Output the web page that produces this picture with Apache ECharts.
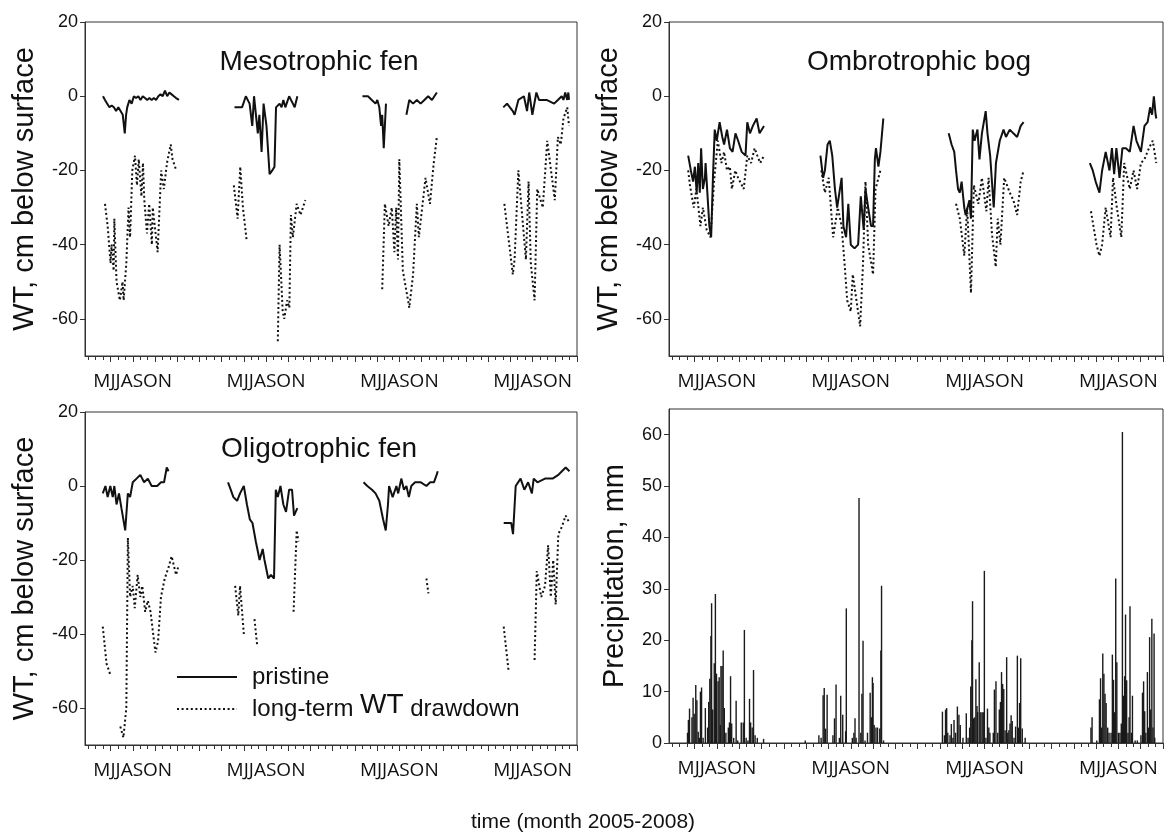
<!DOCTYPE html>
<html>
<head>
<meta charset="utf-8" />
<title>WT and precipitation 2005-2008</title>
<style>
  html, body { margin: 0; padding: 0; background: #fff; }
  #container { width: 1168px; height: 838px; }
</style>
</head>
<body>
<script src="https://cdn.jsdelivr.net/npm/echarts@6/dist/echarts.min.js"></script>
<div id="container"></div>
<script>
// x = months along the plotted growing seasons (4 seasons, 2005-2008)
var majorTicks = [1.15, 2.15, 3.15, 4.15, 5.15, 6.15, 7.15, 8.15, 9.15, 10.15, 11.15,
  12.15, 13.15, 14.15, 15.15, 16.15, 17.15, 18.15, 19.15, 20.15, 21.15, 22.15];
var seasonLabelPos = [2.15, 8.15, 14.15, 20.15];
var seasonLabel = 'MJJASON';
var wtTicks = [-60, -40, -20, 0, 20];
var precipTicks = [0, 10, 20, 30, 40, 50, 60];

// minor ticks: thirds between the major ticks
var minorTicks = [0.15, 0.48, 0.82];
majorTicks.forEach(function (m, i) {
  if (i < majorTicks.length - 1) { minorTicks.push(+(m + 1 / 3).toFixed(2), +(m + 2 / 3).toFixed(2)); }
});

// Mesotrophic fen
var mesoPristine = [
  [[0.81,0],[0.9,-1],[1.0,-2],[1.1,-3],[1.2,-2.5],[1.3,-3],[1.4,-4],[1.5,-3],[1.6,-4],[1.7,-5],[1.79,-10],[1.85,-5],[1.9,-3],[2.0,-1],[2.1,-2],[2.2,0],[2.3,-0.5],[2.4,0],[2.5,-1],[2.6,0],[2.7,-0.5],[2.8,-1],[2.9,-0.5],[3.0,-1],[3.1,-0.5],[3.2,-1],[3.3,0],[3.4,0.5],[3.5,0],[3.6,1.5],[3.7,0],[3.8,1],[3.9,0.5],[4.0,0],[4.1,-0.5],[4.23,-1]],
  [[6.73,-3],[7.07,-3],[7.24,0],[7.41,-2],[7.53,-8],[7.61,0],[7.78,-10],[7.85,-5],[7.95,-15],[8.04,-2],[8.17,-8],[8.31,-21],[8.43,-20],[8.53,-19],[8.6,-3],[8.76,-2],[8.85,-3],[8.93,-1],[9.02,-3],[9.19,0],[9.36,-2],[9.44,-3],[9.56,0]],
  [[12.49,0],[12.74,0],[12.91,-1],[13.08,-2],[13.16,-1],[13.25,-3],[13.33,-8],[13.38,-5],[13.45,-14],[13.55,-2]],
  [[14.47,-5],[14.6,-1],[14.77,-2],[14.94,-1],[15.11,-2],[15.28,-1],[15.45,0],[15.62,-1],[15.84,1]],
  [[18.83,-3],[19.0,-2],[19.26,-4],[19.34,-5],[19.51,-1],[19.76,0],[19.9,-4],[20.0,1],[20.14,-5],[20.32,1],[20.44,-1],[20.78,-1],[21.12,-2],[21.29,-1],[21.46,0],[21.54,-1],[21.62,1],[21.71,-1],[21.76,1],[21.79,-1]]
];
var mesoDrawdown = [
  [[0.9,-29],[1.02,-35],[1.15,-45],[1.2,-40],[1.29,-47],[1.32,-33],[1.42,-50],[1.57,-55],[1.69,-50],[1.74,-55],[1.86,-45],[1.96,-30],[2.03,-38],[2.13,-20],[2.25,-16],[2.34,-24],[2.42,-17],[2.54,-27],[2.61,-18],[2.67,-28],[2.79,-37],[2.89,-29],[3.01,-40],[3.05,-30],[3.27,-42],[3.43,-20],[3.55,-25],[3.69,-18],[3.86,-13],[3.94,-17],[4.11,-20]],
  [[6.7,-24],[6.87,-33],[6.99,-19],[7.11,-30],[7.28,-39]],
  [[8.68,-66],[8.76,-40],[8.9,-58],[8.97,-60],[9.1,-55],[9.2,-57],[9.27,-32],[9.36,-38],[9.53,-29],[9.7,-32],[9.92,-28]],
  [[13.38,-52],[13.5,-29],[13.67,-35],[13.81,-30],[13.93,-42],[14.01,-30],[14.09,-44],[14.15,-17],[14.31,-47],[14.6,-57],[14.77,-48],[14.94,-29],[15.03,-38],[15.33,-22],[15.53,-29],[15.7,-18],[15.84,-11]],
  [[18.88,-29],[19.26,-48],[19.34,-44],[19.51,-20],[19.85,-44],[19.97,-23],[20.07,-45],[20.24,-55],[20.36,-25],[20.61,-30],[20.81,-12],[21.15,-28],[21.29,-11],[21.42,-13],[21.54,-6],[21.71,-3],[21.79,-8]]
];

// Ombrotrophic bog
var bogPristine = [
  [[0.86,-16],[0.98,-20],[1.08,-23],[1.16,-19],[1.24,-26],[1.31,-18],[1.38,-26],[1.44,-14],[1.52,-25],[1.61,-22],[1.64,-18],[1.74,-28],[1.81,-35],[1.89,-38],[1.97,-22],[2.05,-9],[2.14,-12],[2.27,-7],[2.39,-11],[2.47,-13],[2.6,-9],[2.73,-14],[2.85,-15],[2.98,-10],[3.1,-12],[3.26,-15],[3.43,-16],[3.51,-7],[3.63,-10],[3.76,-8],[3.93,-6],[4.06,-10],[4.26,-8]],
  [[6.79,-16],[6.91,-22],[6.99,-20],[7.11,-13],[7.21,-12],[7.32,-16],[7.44,-25],[7.54,-30],[7.6,-30],[7.74,-22],[7.82,-35],[7.94,-38],[8.04,-29],[8.15,-40],[8.32,-41],[8.48,-40],[8.6,-27],[8.73,-36],[8.81,-25],[8.93,-30],[9.06,-35],[9.15,-35],[9.23,-17],[9.28,-14],[9.39,-19],[9.48,-15],[9.61,-6]],
  [[12.54,-10],[12.67,-13],[12.79,-15],[12.87,-20],[12.96,-25],[13.04,-26],[13.12,-23],[13.24,-30],[13.3,-32],[13.47,-28],[13.54,-33],[13.62,-9],[13.7,-12],[13.83,-9],[13.92,-17],[14.03,-10],[14.2,-4],[14.28,-10],[14.4,-16],[14.56,-30],[14.66,-18],[14.74,-18],[14.83,-12],[15.0,-9],[15.11,-11],[15.28,-9],[15.44,-10],[15.61,-11],[15.77,-8],[15.9,-7]],
  [[18.87,-18],[19.0,-20],[19.13,-23],[19.3,-26],[19.42,-20],[19.58,-15],[19.75,-20],[19.86,-14],[19.96,-21],[20.06,-14],[20.2,-22],[20.33,-14],[20.49,-14],[20.66,-15],[20.83,-8],[20.96,-12],[21.16,-15],[21.32,-8],[21.46,-7],[21.57,-3],[21.66,-5],[21.74,0],[21.82,-5],[21.85,-6]]
];
var bogDrawdown = [
  [[0.86,-20],[0.94,-24],[1.11,-30],[1.23,-25],[1.41,-35],[1.52,-30],[1.69,-36],[1.86,-38],[2.02,-23],[2.19,-12],[2.35,-18],[2.47,-15],[2.6,-20],[2.73,-19],[2.82,-25],[2.97,-20],[3.1,-22],[3.35,-25],[3.51,-16],[3.68,-18],[3.84,-14],[3.96,-16],[4.09,-18],[4.26,-16]],
  [[6.83,-20],[6.99,-26],[7.16,-22],[7.36,-38],[7.57,-30],[7.74,-35],[7.87,-45],[7.99,-55],[8.15,-58],[8.24,-48],[8.57,-62],[8.7,-45],[8.81,-23],[8.93,-40],[9.15,-48],[9.26,-25],[9.48,-20]],
  [[12.87,-29],[13.04,-33],[13.24,-43],[13.37,-30],[13.54,-53],[13.67,-24],[13.87,-29],[14.03,-22],[14.23,-31],[14.33,-22],[14.48,-37],[14.65,-46],[14.74,-33],[14.86,-40],[15.03,-22],[15.28,-26],[15.44,-28],[15.61,-32],[15.77,-23],[15.9,-20]],
  [[18.92,-31],[19.17,-40],[19.3,-43],[19.42,-40],[19.58,-30],[19.8,-38],[19.91,-22],[20.08,-30],[20.28,-38],[20.41,-18],[20.66,-25],[20.83,-20],[20.99,-25],[21.16,-18],[21.32,-17],[21.52,-14],[21.69,-12],[21.85,-18]]
];

// Oligotrophic fen
var oligoPristine = [
  [[0.8,-2],[0.92,0],[1.02,-3],[1.14,0],[1.25,-3],[1.32,0],[1.42,-5],[1.53,-2],[1.64,-6],[1.81,-12],[1.93,-2],[2.03,-3],[2.15,1],[2.32,2],[2.49,3],[2.66,1],[2.83,2],[3.0,0],[3.25,0],[3.42,1],[3.56,1],[3.68,5],[3.76,4]],
  [[6.44,1],[6.56,-1],[6.68,-3],[6.85,-4],[6.98,-2],[7.15,0],[7.29,-5],[7.42,-9],[7.54,-10],[7.69,-15],[7.86,-20],[8.0,-17],[8.08,-20],[8.25,-25],[8.37,-24],[8.51,-25],[8.59,-1],[8.68,-3],[8.8,0],[8.93,-5],[9.05,-7],[9.19,-1],[9.32,-1],[9.41,-8],[9.56,-6]],
  [[12.54,1],[12.71,0],[12.92,-1],[13.08,-2],[13.25,-4],[13.42,-9],[13.54,-12],[13.64,-5],[13.69,0],[13.85,-3],[14.02,0],[14.1,-2],[14.24,2],[14.36,-1],[14.47,0],[14.58,-3],[14.69,0],[14.86,1],[15.12,1],[15.37,0],[15.54,1],[15.71,1],[15.83,3],[15.88,4]],
  [[18.85,-10],[19.19,-10],[19.27,-13],[19.39,0],[19.61,2],[19.78,-1],[19.95,1],[20.12,-2],[20.2,2],[20.37,1],[20.71,2],[21.05,2],[21.31,3],[21.47,4],[21.64,5],[21.81,4]]
];
var oligoDrawdown = [
  [[0.8,-38],[0.97,-48],[1.14,-51]],
  [[1.59,-65],[1.73,-68],[1.86,-60],[1.93,-14],[2.03,-30],[2.15,-27],[2.24,-33],[2.37,-24],[2.49,-30],[2.58,-27],[2.71,-34],[2.83,-31],[2.95,-34],[3.17,-45],[3.29,-42],[3.42,-30],[3.59,-25],[3.76,-22],[3.9,-19],[4.1,-24],[4.19,-22]],
  [[6.76,-27],[6.9,-35],[6.98,-27],[7.15,-40]],
  [[7.63,-36],[7.75,-43]],
  [[9.39,-34],[9.53,-12],[9.61,-15]],
  [[15.37,-25],[15.46,-29]],
  [[18.85,-38],[19.07,-50]],
  [[20.24,-47],[20.34,-23],[20.54,-30],[20.71,-27],[20.85,-16],[20.97,-30],[21.08,-20],[21.19,-32],[21.31,-13],[21.47,-11],[21.64,-8],[21.81,-10]]
];

// daily precipitation, mm
var precip2005 = [[0.83,2],[0.87,4.5],[0.92,6.7],[1.03,5],[1.08,8.8],[1.13,5.7],[1.2,11.3],[1.25,8.3],[1.31,2.2],[1.36,1],[1.41,10],[1.46,10.8],[1.53,1],[1.63,6.8],[1.73,3],[1.78,8],[1.83,12.5],[1.88,20.8],[1.91,27.2],[1.96,6.5],[2.03,15.5],[2.08,29],[2.13,13.5],[2.2,12],[2.25,12.8],[2.3,3.5],[2.33,15],[2.38,15],[2.43,18],[2.48,6.8],[2.55,2],[2.66,3],[2.71,4],[2.76,13],[2.81,3.8],[2.9,1],[3.01,8.2],[3.08,0.5],[3.24,4],[3.33,4],[3.38,22],[3.46,1],[3.54,0.5],[3.61,8.6],[3.66,4],[3.73,3],[3.79,14.2],[3.86,1.5],[3.96,1],[4.24,0.8]];
var precip2006 = [[6.11,0.5],[6.72,1.5],[6.82,1],[6.91,9.3],[6.96,10.7],[7.02,2.8],[7.09,9.4],[7.35,1.5],[7.42,4.8],[7.49,11.4],[7.64,1],[7.7,9.2],[7.79,5.5],[7.92,2.3],[7.95,26.2],[8.22,1],[8.29,2],[8.34,4.8],[8.39,1],[8.52,47.7],[8.6,2],[8.65,9.6],[8.7,19.9],[8.79,0.5],[8.9,2],[9.02,9.8],[9.07,5],[9.12,12.8],[9.15,11.7],[9.2,3.5],[9.28,3],[9.35,3],[9.45,2.8],[9.5,18],[9.53,30.6],[9.62,0.5]];
var precip2007 = [[12.26,6.1],[12.35,1.5],[12.4,6.5],[12.45,6.8],[12.5,2],[12.6,1.5],[12.66,3.7],[12.73,1],[12.78,4.5],[12.85,2],[12.93,7.1],[13.0,5.5],[13.06,3.5],[13.18,1],[13.33,5.8],[13.41,1],[13.48,3],[13.53,11],[13.58,20],[13.61,27.6],[13.66,4.8],[13.71,5],[13.76,12.4],[13.81,7.2],[13.84,6],[13.91,15.7],[13.98,6],[14.04,6],[14.09,6],[14.14,33.5],[14.21,1],[14.28,6.7],[14.34,3],[14.39,2],[14.54,2],[14.59,10.4],[14.66,12],[14.74,2],[14.81,6.5],[14.86,8],[14.91,13.8],[14.96,11.5],[15.01,10.5],[15.07,2.5],[15.14,16.7],[15.19,2],[15.24,2.5],[15.29,3.8],[15.34,5.4],[15.39,4.3],[15.47,1],[15.54,3.2],[15.62,17],[15.67,3],[15.72,7.8],[15.77,16.5],[15.84,2.8],[15.97,1]];
var precip2008 = [[18.92,3],[18.97,5],[19.18,0.5],[19.3,8.5],[19.35,12.6],[19.4,3],[19.45,17.4],[19.5,13.5],[19.55,9.6],[19.6,7.8],[19.67,3],[19.73,2],[19.82,2],[19.88,17.2],[19.93,12.3],[19.98,6],[20.03,32],[20.08,15.7],[20.15,2],[20.22,2],[20.28,3.8],[20.33,60.5],[20.38,9.2],[20.43,13],[20.47,25],[20.52,12.2],[20.58,2],[20.63,5],[20.67,26.6],[20.73,2],[20.78,9.2],[20.9,0.5],[21.0,0.5],[21.16,1.5],[21.23,9.8],[21.28,12],[21.33,6.2],[21.38,2],[21.45,13.8],[21.5,3],[21.55,20.6],[21.6,6.5],[21.65,24.2],[21.7,3],[21.75,21.3],[21.78,1]];

// glue the season pieces together with gaps in between
function joinSegs(segs) {
  var out = [];
  segs.forEach(function (s, i) {
    if (i > 0) out.push(['-', '-']);
    out = out.concat(s);
  });
  return out;
}

var font = 'Liberation Sans, Arial, sans-serif';
var axisColor = '#333';
var grids = [
  { left: 85, top: 22, width: 492, height: 334 },
  { left: 669, top: 22, width: 494, height: 334 },
  { left: 85, top: 412, width: 492, height: 333 },
  { left: 669, top: 409, width: 494, height: 334 }
];

var xAxes = [], yAxes = [];
grids.forEach(function (g, i) {
  g.show = true;
  g.borderColor = axisColor;
  g.borderWidth = 1;
  xAxes.push({
    gridIndex: i, type: 'value', min: 0, max: 22.15, position: 'bottom',
    axisLine: { show: true, onZero: false, lineStyle: { color: axisColor, width: 1 } },
    axisTick: { show: true, customValues: majorTicks, length: 6, lineStyle: { color: axisColor } },
    axisLabel: {
      customValues: seasonLabelPos, formatter: function () { return seasonLabel; },
      fontSize: 19, color: '#111', fontFamily: 'Open Sans, sans-serif', margin: 16
    },
    splitLine: { show: false }
  });
});
grids.forEach(function (g, i) {
  xAxes.push({
    gridIndex: i, type: 'value', min: 0, max: 22.15, position: 'bottom', offset: 0,
    axisLine: { show: false, onZero: false },
    axisTick: { show: true, customValues: minorTicks, length: 4, lineStyle: { color: axisColor } },
    axisLabel: { show: false },
    splitLine: { show: false }
  });
});
grids.forEach(function (g, i) {
  var precip = i === 3;
  yAxes.push({
    gridIndex: i, type: 'value',
    min: precip ? 0 : -70, max: precip ? 65 : 20,
    name: precip ? 'Precipitation, mm' : 'WT, cm below surface',
    nameLocation: 'middle', nameGap: precip ? 40 : 46,
    nameTextStyle: { fontSize: 29, color: '#111', fontFamily: font },
    axisLine: { show: true, onZero: false, lineStyle: { color: axisColor, width: 1 } },
    axisTick: { show: true, customValues: precip ? precipTicks : wtTicks, length: 5, lineStyle: { color: axisColor } },
    axisLabel: { customValues: precip ? precipTicks : wtTicks, fontSize: 18, color: '#111', fontFamily: font, margin: 7 },
    splitLine: { show: false }
  });
});

var panels = [
  { p: mesoPristine, d: mesoDrawdown },
  { p: bogPristine, d: bogDrawdown },
  { p: oligoPristine, d: oligoDrawdown }
];
var series = [];
panels.forEach(function (pn, i) {
  series.push({
    type: 'line', name: 'pristine', xAxisIndex: i, yAxisIndex: i,
    data: joinSegs(pn.p), symbol: 'none', z: 3,
    lineStyle: { color: '#111', width: 2 }, itemStyle: { color: '#111' }
  });
  series.push({
    type: 'line', name: 'long-term WT drawdown', xAxisIndex: i, yAxisIndex: i,
    data: joinSegs(pn.d), symbol: 'none', z: 2,
    lineStyle: { color: '#111', width: 2, type: [2, 2.6] }, itemStyle: { color: '#111' }
  });
});
series.push({
  type: 'bar', name: 'precipitation', xAxisIndex: 3, yAxisIndex: 3,
  data: precip2005.concat(precip2006, precip2007, precip2008),
  barWidth: 1.4, itemStyle: { color: '#1a1a1a' }
});

var titleStyle = { fontSize: 28, fontWeight: 'normal', color: '#111', fontFamily: font };
var myChart = echarts.init(document.getElementById('container'));
var option = {
  animation: false,
  backgroundColor: '#fff',
  title: [
    { text: 'Mesotrophic fen', left: 319, top: 48, textAlign: 'center', padding: 0, textStyle: titleStyle },
    { text: 'Ombrotrophic bog', left: 919, top: 48, textAlign: 'center', padding: 0, textStyle: titleStyle },
    { text: 'Oligotrophic fen', left: 319, top: 435, textAlign: 'center', padding: 0, textStyle: titleStyle },
    { text: 'time (month 2005-2008)', left: 583, top: 812, textAlign: 'center', padding: 0,
      textStyle: { fontSize: 21, fontWeight: 'normal', color: '#111', fontFamily: font } }
  ],
  legend: {
    data: ['pristine', 'long-term WT drawdown'],
    orient: 'vertical', left: 176, top: 665, itemWidth: 60, itemHeight: 12, itemGap: 2,
    padding: 0, selectedMode: false,
    itemStyle: { opacity: 0 },
    formatter: function (name) {
      return name === 'pristine' ? 'pristine' : 'long-term {big|WT} drawdown';
    },
    textStyle: {
      fontSize: 24, color: '#111', fontFamily: font, padding: [0, 0, 0, 10],
      rich: { big: { fontSize: 28, fontFamily: font, color: '#111', padding: [0, 0, 8, 0] } }
    }
  },
  grid: grids,
  xAxis: xAxes,
  yAxis: yAxes,
  series: series
};
myChart.setOption(option);
window.addEventListener('resize', myChart.resize);
</script>
</body>
</html>
